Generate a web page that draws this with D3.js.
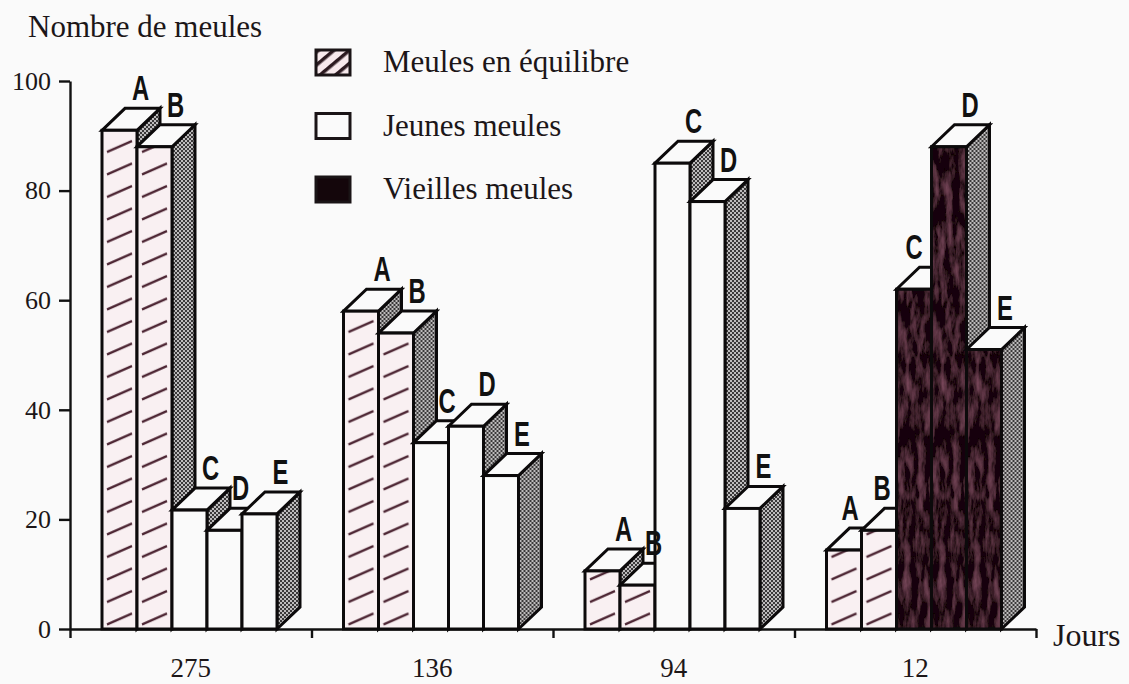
<!DOCTYPE html>
<html>
<head>
<meta charset="utf-8">
<script src="https://cdn.jsdelivr.net/npm/d3@7"></script>
<style>
  html, body { margin: 0; padding: 0; background: #fafafa; }
  svg { display: block; }
  text { font-family: "Liberation Serif", serif; fill: #1c1618; }
  .letter { font-family: "Liberation Sans", sans-serif; font-weight: bold; font-size: 35px; text-anchor: middle; fill: #111; }
</style>
</head>
<body>
<svg id="chart" width="1129" height="684"></svg>
<script>
// Chart values
const days = ['275', '136', '94', '12'];
const letters = ['A', 'B', 'C', 'D', 'E'];
const counts = [
  [91, 88, 21.7, 18, 21],
  [58, 54, 34, 37, 28],
  [10.6, 8, 85, 78, 22],
  [14.4, 18, 62, 88, 51]
];
// 0 = en équilibre, 1 = jeunes, 2 = vieilles
const kinds = [
  [0, 0, 1, 1, 1],
  [0, 0, 1, 1, 1],
  [0, 0, 1, 1, 1],
  [0, 0, 2, 2, 2]
];
const legendLabels = ['Meules en équilibre', 'Jeunes meules', 'Vieilles meules'];
const yTicks = [0, 20, 40, 60, 80, 100];

const svg = d3.select('#chart');
const defs = svg.append('defs');

// Hatch used on the "equilibre" bars
const hatch = defs.append('pattern')
  .attr('id', 'hatch')
  .attr('patternUnits', 'userSpaceOnUse')
  .attr('width', 35).attr('height', 22.5);
hatch.append('rect').attr('width', 35).attr('height', 22.5).attr('fill', '#f9f0f2');
hatch.append('line')
  .attr('x1', 5).attr('y1', 17).attr('x2', 30).attr('y2', 6)
  .attr('stroke', '#4a2230').attr('stroke-width', 2.2);

// Dotted grey on the side faces
const dots = defs.append('pattern')
  .attr('id', 'dots')
  .attr('patternUnits', 'userSpaceOnUse')
  .attr('width', 4).attr('height', 4);
dots.append('rect').attr('width', 4).attr('height', 4).attr('fill', '#3a3839');
dots.append('rect').attr('width', 2).attr('height', 2).attr('fill', '#bdbbbc');
dots.append('rect').attr('x', 2).attr('y', 2).attr('width', 2).attr('height', 2).attr('fill', '#bdbbbc');

// Mottled dark fill for the old ones
const mottled = defs.append('filter')
  .attr('id', 'mottled')
  .attr('x', 0).attr('y', 0).attr('width', 1).attr('height', 1);
mottled.append('feTurbulence')
  .attr('type', 'fractalNoise')
  .attr('baseFrequency', '0.14 0.04')
  .attr('numOctaves', 4)
  .attr('seed', 4)
  .attr('result', 'noise');
mottled.append('feColorMatrix')
  .attr('in', 'noise')
  .attr('type', 'matrix')
  .attr('values', '0 0 0 0 0.24  0 0 0 0 0.08  0 0 0 0 0.13  1.5 0 0 0 -0.62')
  .attr('result', 'tint');
mottled.append('feComposite')
  .attr('in', 'tint').attr('in2', 'SourceAlpha').attr('operator', 'in').attr('result', 'spots');
mottled.append('feMerge').selectAll('feMergeNode')
  .data(['SourceGraphic', 'spots'])
  .join('feMergeNode')
  .attr('in', d => d);

const fills = ['url(#hatch)', '#fafafa', '#14060b'];

const x0 = 70, x1 = 1036, yBase = 629, yTop = 81;
const depthX = 23, depthY = 22;

const y = d3.scaleLinear().domain([0, 100]).range([yBase, yTop]);
const xGroup = d3.scaleBand().domain(days).range([x0, x1]);
const xBar = d3.scaleBand().domain(letters).range([32, 207]);

// Axes
const axisStyle = g => {
  g.selectAll('path,line').attr('stroke', '#111').attr('stroke-width', 2.4);
  g.selectAll('text').attr('font-family', '"Liberation Serif", serif').attr('fill', '#1c1618');
};

svg.append('g')
  .attr('transform', `translate(${x0},0)`)
  .call(d3.axisLeft(y).tickValues(yTicks).tickSize(11).tickPadding(8).tickSizeOuter(0))
  .call(axisStyle)
  .selectAll('text').attr('font-size', 26);

// x axis ticks sit on the group boundaries
const xEdges = d3.scaleLinear().domain([0, days.length]).range([x0, x1]);
svg.append('g')
  .attr('transform', `translate(0,${yBase})`)
  .call(d3.axisBottom(xEdges).tickValues(d3.range(days.length + 1)).tickFormat('').tickSize(9).tickSizeOuter(0))
  .call(axisStyle);

// group labels
svg.append('g')
  .attr('transform', `translate(0,${yBase + 29})`)
  .call(d3.axisBottom(xGroup).tickSize(0).tickPadding(0))
  .call(axisStyle)
  .call(g => g.select('.domain').remove())
  .selectAll('text').attr('font-size', 27);

// Bars, left to right so each one covers the side of the previous
const bars = days.flatMap((day, i) => letters.map((letter, j) => ({
  day, letter, value: counts[i][j], kind: kinds[i][j]
})));

const barW = xBar.bandwidth();
const barG = svg.append('g').selectAll('g').data(bars).join('g')
  .attr('transform', d => `translate(${xGroup(d.day) + xBar(d.letter)},0)`)
  .attr('stroke', '#0c0a0b')
  .attr('stroke-width', 3)
  .attr('stroke-linejoin', 'miter');

// side face
barG.append('path')
  .attr('fill', 'url(#dots)')
  .attr('d', d => {
    const t = y(d.value);
    return `M${barW},${yBase}L${barW + depthX},${yBase - depthY}L${barW + depthX},${t - depthY}L${barW},${t}Z`;
  });

// top face
barG.append('path')
  .attr('fill', '#fafafa')
  .attr('d', d => {
    const t = y(d.value);
    return `M0,${t}L${depthX},${t - depthY}L${barW + depthX},${t - depthY}L${barW},${t}Z`;
  });

// front face
barG.append('rect')
  .attr('width', barW)
  .attr('y', d => y(d.value))
  .attr('height', d => yBase - y(d.value))
  .attr('fill', d => fills[d.kind])
  .attr('filter', d => d.kind === 2 ? 'url(#mottled)' : null);

// outline again on the dark bars, the mottling washes it out
barG.filter(d => d.kind === 2).append('rect')
  .attr('width', barW)
  .attr('y', d => y(d.value))
  .attr('height', d => yBase - y(d.value))
  .attr('fill', 'none');

// Letters above the bars; a few sit further left, clear of a taller neighbour
const letterShift = { '12-A': -15, '12-B': -18, '12-C': -21, '94-B': -5, '136-C': -5, '275-D': -5 };
svg.append('g').selectAll('text').data(bars).join('text')
  .attr('class', 'letter')
  .attr('transform', d => {
    const lx = xGroup(d.day) + xBar(d.letter) + barW / 2 + 21 + (letterShift[`${d.day}-${d.letter}`] || 0);
    return `translate(${lx},${y(d.value) - 30}) scale(0.68,1)`;
  })
  .text(d => d.letter);

// Legend
const legendHatch = defs.append('pattern')
  .attr('id', 'legendHatch')
  .attr('patternUnits', 'userSpaceOnUse')
  .attr('patternTransform', 'rotate(-40)')
  .attr('width', 10).attr('height', 10);
legendHatch.append('rect').attr('width', 10).attr('height', 10).attr('fill', '#f7e9ec');
legendHatch.append('rect').attr('width', 10).attr('height', 3.5).attr('fill', '#2c1a20');

const legendY = d3.scalePoint().domain(legendLabels).range([50, 177]);
const legend = svg.append('g').selectAll('g').data(legendLabels).join('g')
  .attr('transform', d => `translate(316,${legendY(d)})`);

legend.append('rect')
  .attr('width', 34).attr('height', 25)
  .attr('stroke', '#1a1416').attr('stroke-width', 3)
  .attr('fill', (d, i) => i === 0 ? 'url(#legendHatch)' : fills[i]);

legend.append('text')
  .attr('x', 67).attr('y', 22)
  .attr('font-size', 31)
  .text(d => d);

// Axis titles
svg.append('text').attr('x', 28).attr('y', 37).attr('font-size', 31).text('Nombre de meules');
svg.append('text').attr('x', 1053).attr('y', 646).attr('font-size', 32).text('Jours');
</script>
</body>
</html>
